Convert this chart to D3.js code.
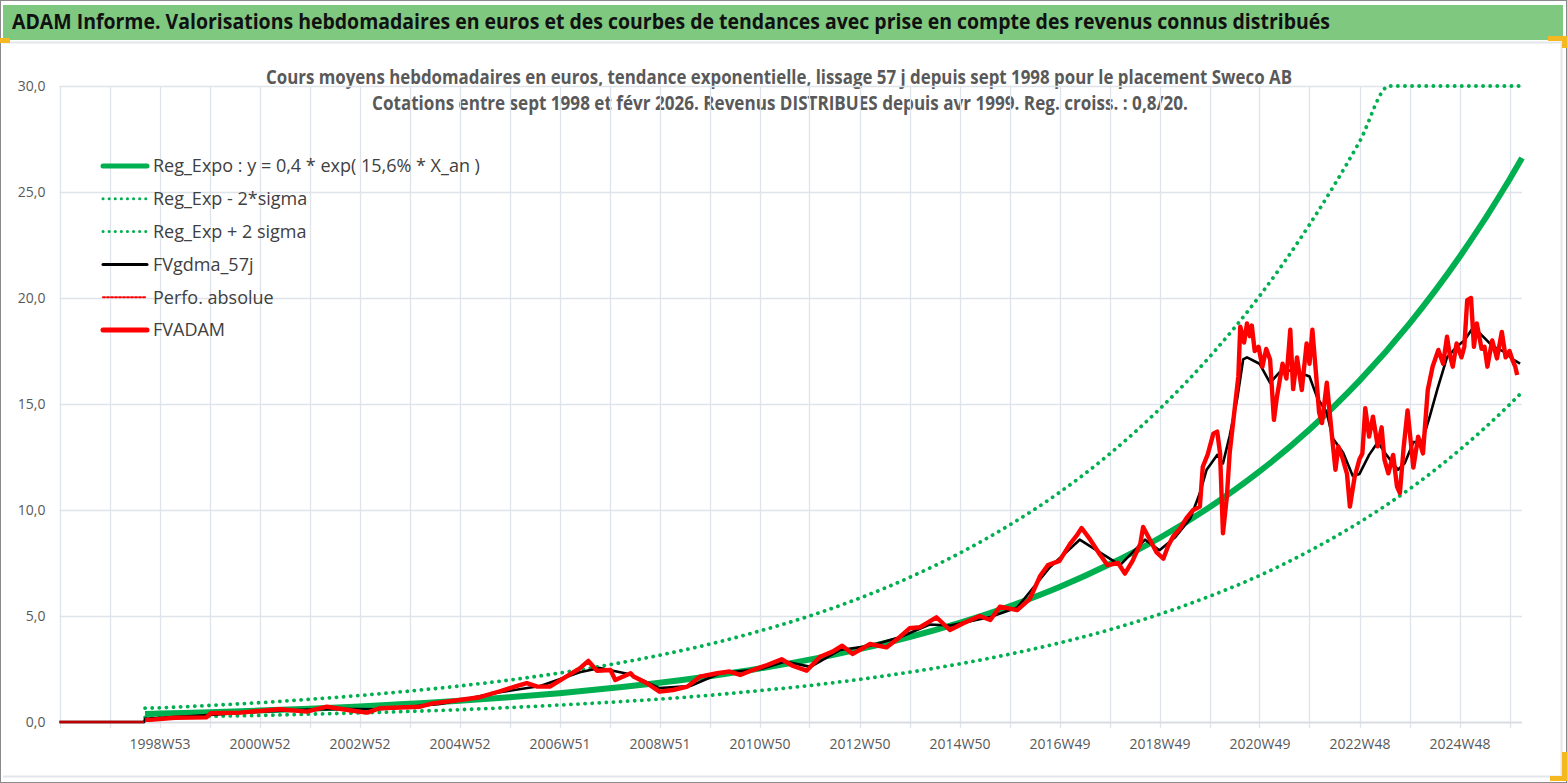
<!DOCTYPE html>
<html>
<head>
<meta charset="utf-8">
<script src="https://cdn.jsdelivr.net/npm/d3@7"></script>
<style>
  body { margin: 0; background: #fff; }
  svg { display: block; }
</style>
</head>
<body>
<svg></svg>
<script>
// x is the week index of the category axis (0 = first week of 1997)
const tickLabels = ["1998W53", "2000W52", "2002W52", "2004W52", "2006W51", "2008W51", "2010W50",
    "2012W50", "2014W50", "2016W49", "2018W49", "2020W49", "2022W48", "2024W48"];
const tickLabelWeeks = [104, 208, 312, 416, 520, 624, 728, 832, 936, 1040, 1144, 1248, 1352, 1456];
const yTicks = [0, 5, 10, 15, 20, 25, 30];

// trend curves read at each gridline
const trendWeeks = [89, 104, 156, 208, 260, 312, 364, 416, 468, 520, 572, 624, 676, 728, 780, 832,
    884, 936, 988, 1040, 1092, 1144, 1196, 1248, 1300, 1352, 1404, 1456, 1508, 1521];
const regExpo = [0.38, 0.40, 0.46, 0.54, 0.63, 0.73, 0.86, 1.00, 1.17, 1.36, 1.59, 1.85, 2.16, 2.52,
    2.94, 3.44, 4.01, 4.68, 5.46, 6.37, 7.44, 8.68, 10.13, 11.82, 13.80, 16.10, 18.79, 21.93, 25.59, 26.6];
const regLow = [0.22, 0.23, 0.27, 0.31, 0.37, 0.43, 0.50, 0.58, 0.68, 0.80, 0.93, 1.08, 1.26, 1.48,
    1.72, 2.01, 2.35, 2.74, 3.20, 3.73, 4.35, 5.08, 5.93, 6.91, 8.07, 9.42, 10.99, 12.83, 14.97, 15.56];
const regHighWeeks = [89, 104, 156, 208, 260, 312, 364, 416, 468, 520, 572, 624, 676, 728, 780, 832,
    884, 936, 988, 1040, 1092, 1144, 1196, 1248, 1300, 1352, 1383, 1404, 1456, 1508, 1521];
const regHigh = [0.65, 0.67, 0.78, 0.91, 1.07, 1.25, 1.46, 1.70, 1.98, 2.31, 2.70, 3.15, 3.67, 4.29,
    5.00, 5.84, 6.82, 7.96, 9.29, 10.83, 12.64, 14.76, 17.22, 20.09, 23.46, 27.37, 30, 30, 30, 30, 30];

// Perfo. absolue: flat zero before the first quotation
const perfoWeeks = [0, 88];
const perfo = [0, 0];

// FVgdma_57j (smoothed)
const gdmaWeeks = [0, 88, 89, 146, 209, 281, 333, 396, 458, 500, 541, 562, 593, 624, 656, 687, 729,
    755, 781, 812, 843, 874, 905, 926, 968, 996, 1030, 1061, 1082, 1103, 1129, 1144, 1160, 1176,
    1186, 1193, 1204, 1210, 1217, 1225, 1231, 1235, 1248, 1259, 1269, 1283, 1300, 1308, 1318, 1324,
    1335, 1345, 1352, 1362, 1371, 1380, 1392, 1399, 1408, 1417, 1425, 1433, 1443, 1453, 1461, 1470,
    1478, 1491, 1501, 1512, 1519];
const gdma = [0, 0, 0.15, 0.3, 0.5, 0.62, 0.6, 0.85, 1.4, 1.7, 2.35, 2.55, 2.25, 1.6, 1.7, 2.3, 2.5,
    2.85, 2.6, 3.4, 3.6, 4.0, 4.6, 4.55, 4.95, 5.4, 7.3, 8.6, 8.0, 7.4, 8.6, 8.1, 8.7, 9.6,
    10.8, 11.9, 12.6, 12.2, 13.5, 15.3, 17.1, 17.2, 16.9, 16.0, 16.5, 16.6, 16.3, 15.3, 14.6, 13.4,
    12.7, 11.6, 11.7, 12.6, 13.2, 12.6, 11.9, 12.2, 13.2, 13.2, 14.4, 15.7, 17.2, 17.7, 18.0, 18.6,
    18.3, 17.7, 17.5, 17.1, 16.9];

// FVADAM (weekly valuation)
const fvWeeks = [89, 94, 120, 153, 157, 188, 229, 257, 278, 305, 320, 333, 375, 388, 416, 437, 458,
    476, 486, 497, 510, 524, 541, 550, 559, 573, 578, 594, 597, 611, 624, 638, 653, 666, 684, 697,
    708, 721, 736, 751, 763, 777, 791, 804, 814, 825, 843, 860, 871, 884, 895, 912, 926, 940, 957,
    968, 978, 996, 1009, 1020, 1028, 1040, 1051, 1058, 1063, 1072, 1082, 1090, 1101, 1108, 1116,
    1124, 1127, 1134, 1141, 1148, 1153, 1158, 1165, 1172, 1179, 1186, 1189, 1194, 1200, 1204, 1207,
    1210, 1214, 1217, 1222, 1226, 1228, 1232, 1235, 1238, 1240, 1243, 1247, 1251, 1255, 1259, 1263,
    1266, 1269, 1272, 1276, 1280, 1283, 1287, 1292, 1297, 1300, 1303, 1307, 1310, 1313, 1318, 1321,
    1324, 1327, 1330, 1334, 1339, 1342, 1347, 1352, 1355, 1358, 1362, 1366, 1371, 1375, 1378, 1382,
    1387, 1391, 1394, 1398, 1402, 1408, 1413, 1418, 1423, 1428, 1434, 1439, 1443, 1446, 1449, 1453,
    1458, 1461, 1464, 1468, 1471, 1474, 1479, 1482, 1485, 1490, 1495, 1500, 1504, 1508, 1511, 1514,
    1516, 1520];
const fvadam = [0.1, 0.1, 0.2, 0.22, 0.41, 0.44, 0.6, 0.49, 0.72, 0.53, 0.44, 0.65, 0.72, 0.88, 1.04,
    1.17, 1.45, 1.70, 1.83, 1.67, 1.67, 2.06, 2.53, 2.88, 2.42, 2.45, 1.98, 2.30, 2.15, 1.83, 1.43,
    1.51, 1.67, 2.14, 2.30, 2.38, 2.22, 2.45, 2.69, 2.96, 2.64, 2.42, 3.08, 3.32, 3.60, 3.21, 3.68,
    3.52, 3.90, 4.42, 4.47, 4.94, 4.34, 4.66, 5.0, 4.81, 5.44, 5.28, 5.8, 6.9, 7.4, 7.6, 8.4, 8.8,
    9.15, 8.6, 7.9, 7.4, 7.5, 7.0, 7.6, 8.4, 9.2, 8.6, 8.0, 7.7, 8.3, 8.74, 9.1, 9.62, 10.0, 10.16,
    12.04, 12.6, 13.6, 13.7, 12.67, 8.9, 10.6, 12.7, 14.7, 16.3, 18.65, 17.9, 18.8, 18.2, 18.7, 17.5,
    17.7, 16.76, 17.6, 17.1, 14.25, 15.3, 16.1, 16.9, 16.2, 18.5, 15.7, 17.2, 15.66, 17.86, 16.9,
    18.5, 16.3, 14.6, 14.1, 16.0, 14.6, 13.2, 11.9, 13.0, 12.5, 11.7, 10.16, 11.57, 12.4, 12.67, 14.8,
    13.46, 14.4, 13.0, 13.9, 12.36, 11.73, 12.6, 11.1, 10.8, 13.0, 14.7, 12.0, 13.46, 12.67, 15.66,
    16.76, 17.55, 16.9, 18.17, 17.3, 16.76, 17.86, 17.2, 17.7, 19.9, 20.0, 17.7, 18.8, 17.6, 17.7,
    16.76, 18.0, 17.15, 18.4, 17.2, 17.5, 17.08, 16.76, 16.37];

const legendItems = [
    { label: "Reg_Expo : y = 0,4 * exp( 15,6% *  X_an )", color: "#00b050", width: 5, dash: null },
    { label: "Reg_Exp - 2*sigma", color: "#00b050", width: 3, dash: "0.1 6" },
    { label: "Reg_Exp + 2 sigma", color: "#00b050", width: 3, dash: "0.1 6" },
    { label: "FVgdma_57j", color: "#000000", width: 3, dash: null },
    { label: "Perfo. absolue", color: "#ff0000", width: 2, dash: "2 2" },
    { label: "FVADAM", color: "#ff0000", width: 5, dash: null }
];

const width = 1567;
const height = 783;
const font = "'Liberation Sans Narrow', 'Open Sans', sans-serif";
const gridColor = "#dfe3ea";

const svg = d3.select("svg")
    .attr("width", width)
    .attr("height", height)
    .style("font-family", font);

// sheet frame and header band
svg.append("rect").attr("x", 0.5).attr("y", 0.5).attr("width", width - 1).attr("height", height - 1)
    .attr("fill", "#fff").attr("stroke", "#8a8a8a");
svg.append("rect").attr("x", 3).attr("y", 5).attr("width", 1560).attr("height", 35)
    .attr("fill", "#7ec87f");
svg.append("line").attr("x1", 3).attr("x2", 1562).attr("y1", 42.5).attr("y2", 42.5)
    .attr("stroke", "#e3e6ea").attr("stroke-width", 2);
svg.append("line").attr("x1", 1561.5).attr("x2", 1561.5).attr("y1", 42).attr("y2", 776)
    .attr("stroke", "#e3e6ea").attr("stroke-width", 2);
svg.append("line").attr("x1", 3).attr("x2", 1562).attr("y1", 776.5).attr("y2", 776.5)
    .attr("stroke", "#e3e6ea").attr("stroke-width", 2);
svg.append("rect").attr("x", 0).attr("y", 38).attr("width", 10).attr("height", 5).attr("fill", "#f5b820");
svg.append("rect").attr("x", 1548).attr("y", 36).attr("width", 19).attr("height", 5).attr("fill", "#f5b820");
svg.append("rect").attr("x", 1562).attr("y", 36).attr("width", 5).attr("height", 12).attr("fill", "#f5b820");
svg.append("rect").attr("x", 1550).attr("y", 776).attr("width", 17).attr("height", 5).attr("fill", "#f5b820");
svg.append("rect").attr("x", 1562).attr("y", 752).attr("width", 5).attr("height", 29).attr("fill", "#f5b820");

svg.append("text")
    .attr("x", 12).attr("y", 29)
    .attr("textLength", 1318).attr("lengthAdjust", "spacingAndGlyphs")
    .style("font-size", "22px").style("font-weight", "bold").attr("fill", "#111")
    .text("ADAM Informe. Valorisations hebdomadaires en euros et des courbes de tendances avec prise en compte des revenus connus distribués");

svg.append("text")
    .attr("x", 266).attr("y", 84)
    .attr("textLength", 1026).attr("lengthAdjust", "spacingAndGlyphs")
    .style("font-size", "19px").style("font-weight", "bold").attr("fill", "#595959")
    .text("Cours moyens hebdomadaires en euros, tendance exponentielle, lissage 57 j depuis sept 1998 pour le placement Sweco AB");
svg.append("text")
    .attr("x", 372).attr("y", 110)
    .attr("textLength", 816).attr("lengthAdjust", "spacingAndGlyphs")
    .style("font-size", "19px").style("font-weight", "bold").attr("fill", "#595959")
    .text("Cotations entre sept 1998 et févr 2026. Revenus DISTRIBUES depuis avr 1999. Reg. croiss. : 0,8/20.");

// scales
const x = d3.scaleLinear().domain([0, 1521]).range([59.5, 1522]);
const y = d3.scaleLinear().domain([0, 30]).range([722, 86]);

// gridlines
const gridWeeks = d3.range(0, 1521, 52);
svg.append("g").selectAll("line").data(gridWeeks).join("line")
    .attr("x1", d => Math.round(x(d)) + 0.5).attr("x2", d => Math.round(x(d)) + 0.5)
    .attr("y1", y(30)).attr("y2", y(0) + 6)
    .attr("stroke", gridColor).attr("stroke-width", 1.3);
svg.append("g").selectAll("line").data(yTicks).join("line")
    .attr("x1", x(0)).attr("x2", x(1521))
    .attr("y1", d => Math.round(y(d)) + 0.5).attr("y2", d => Math.round(y(d)) + 0.5)
    .attr("stroke", d => d === 0 ? "#d9dde3" : gridColor).attr("stroke-width", d => d === 0 ? 2 : 1.3);

// y axis labels
const yAxis = svg.append("g")
    .attr("transform", `translate(${x(0)},0)`)
    .call(d3.axisLeft(y).tickValues(yTicks).tickSize(0).tickPadding(14)
        .tickFormat(d => d3.format(".1f")(d).replace(".", ",")));
yAxis.select(".domain").remove();
yAxis.selectAll("text").style("font-size", "14px").style("font-family", font).attr("fill", "#595959");

// x axis labels
const labelOf = new Map(tickLabelWeeks.map((w, i) => [w, tickLabels[i]]));
const xAxis = svg.append("g")
    .attr("transform", `translate(0,${y(0)})`)
    .call(d3.axisBottom(x).tickValues(tickLabelWeeks).tickSize(0).tickPadding(17)
        .tickFormat(d => labelOf.get(d)));
xAxis.select(".domain").remove();
xAxis.selectAll("text").style("font-size", "14px").style("font-family", font).attr("fill", "#595959");

// series
function drawSeries(weeks, values, color, w, dash, curve) {
    const line = d3.line()
        .x(d => x(d[0]))
        .y(d => y(d[1]))
        .curve(curve || d3.curveLinear);
    const path = svg.append("path")
        .datum(weeks.map((wk, i) => [wk, values[i]]))
        .attr("d", line)
        .attr("fill", "none")
        .attr("stroke", color)
        .attr("stroke-width", w)
        .attr("stroke-linejoin", "round");
    if (dash) path.attr("stroke-dasharray", dash).attr("stroke-linecap", "round");
    return path;
}

drawSeries(trendWeeks, regExpo, "#00b050", 6, null, d3.curveMonotoneX);
drawSeries(trendWeeks, regLow, "#00b050", 3.8, "0.1 7", d3.curveMonotoneX);
drawSeries(regHighWeeks, regHigh, "#00b050", 3.8, "0.1 7", d3.curveMonotoneX);
drawSeries(gdmaWeeks, gdma, "#000000", 2.6, null);
drawSeries(fvWeeks, fvadam, "#ff0000", 4.4, null);
drawSeries(perfoWeeks, perfo, "#c00000", 2.5, null);

// legend
const legend = svg.append("g").attr("transform", "translate(103,166)");
const rows = legend.selectAll("g").data(legendItems).join("g")
    .attr("transform", (d, i) => `translate(0,${i * 32.8})`);
rows.append("line")
    .attr("x1", 0).attr("x2", 44).attr("y1", 0).attr("y2", 0)
    .attr("stroke", d => d.color).attr("stroke-width", d => d.width)
    .attr("stroke-linecap", "round")
    .attr("stroke-dasharray", d => d.dash);
rows.append("text")
    .attr("x", 50).attr("y", 0).attr("dy", "0.35em")
    .style("font-size", "18px").attr("fill", "#404040")
    .text(d => d.label);
</script>
</body>
</html>
